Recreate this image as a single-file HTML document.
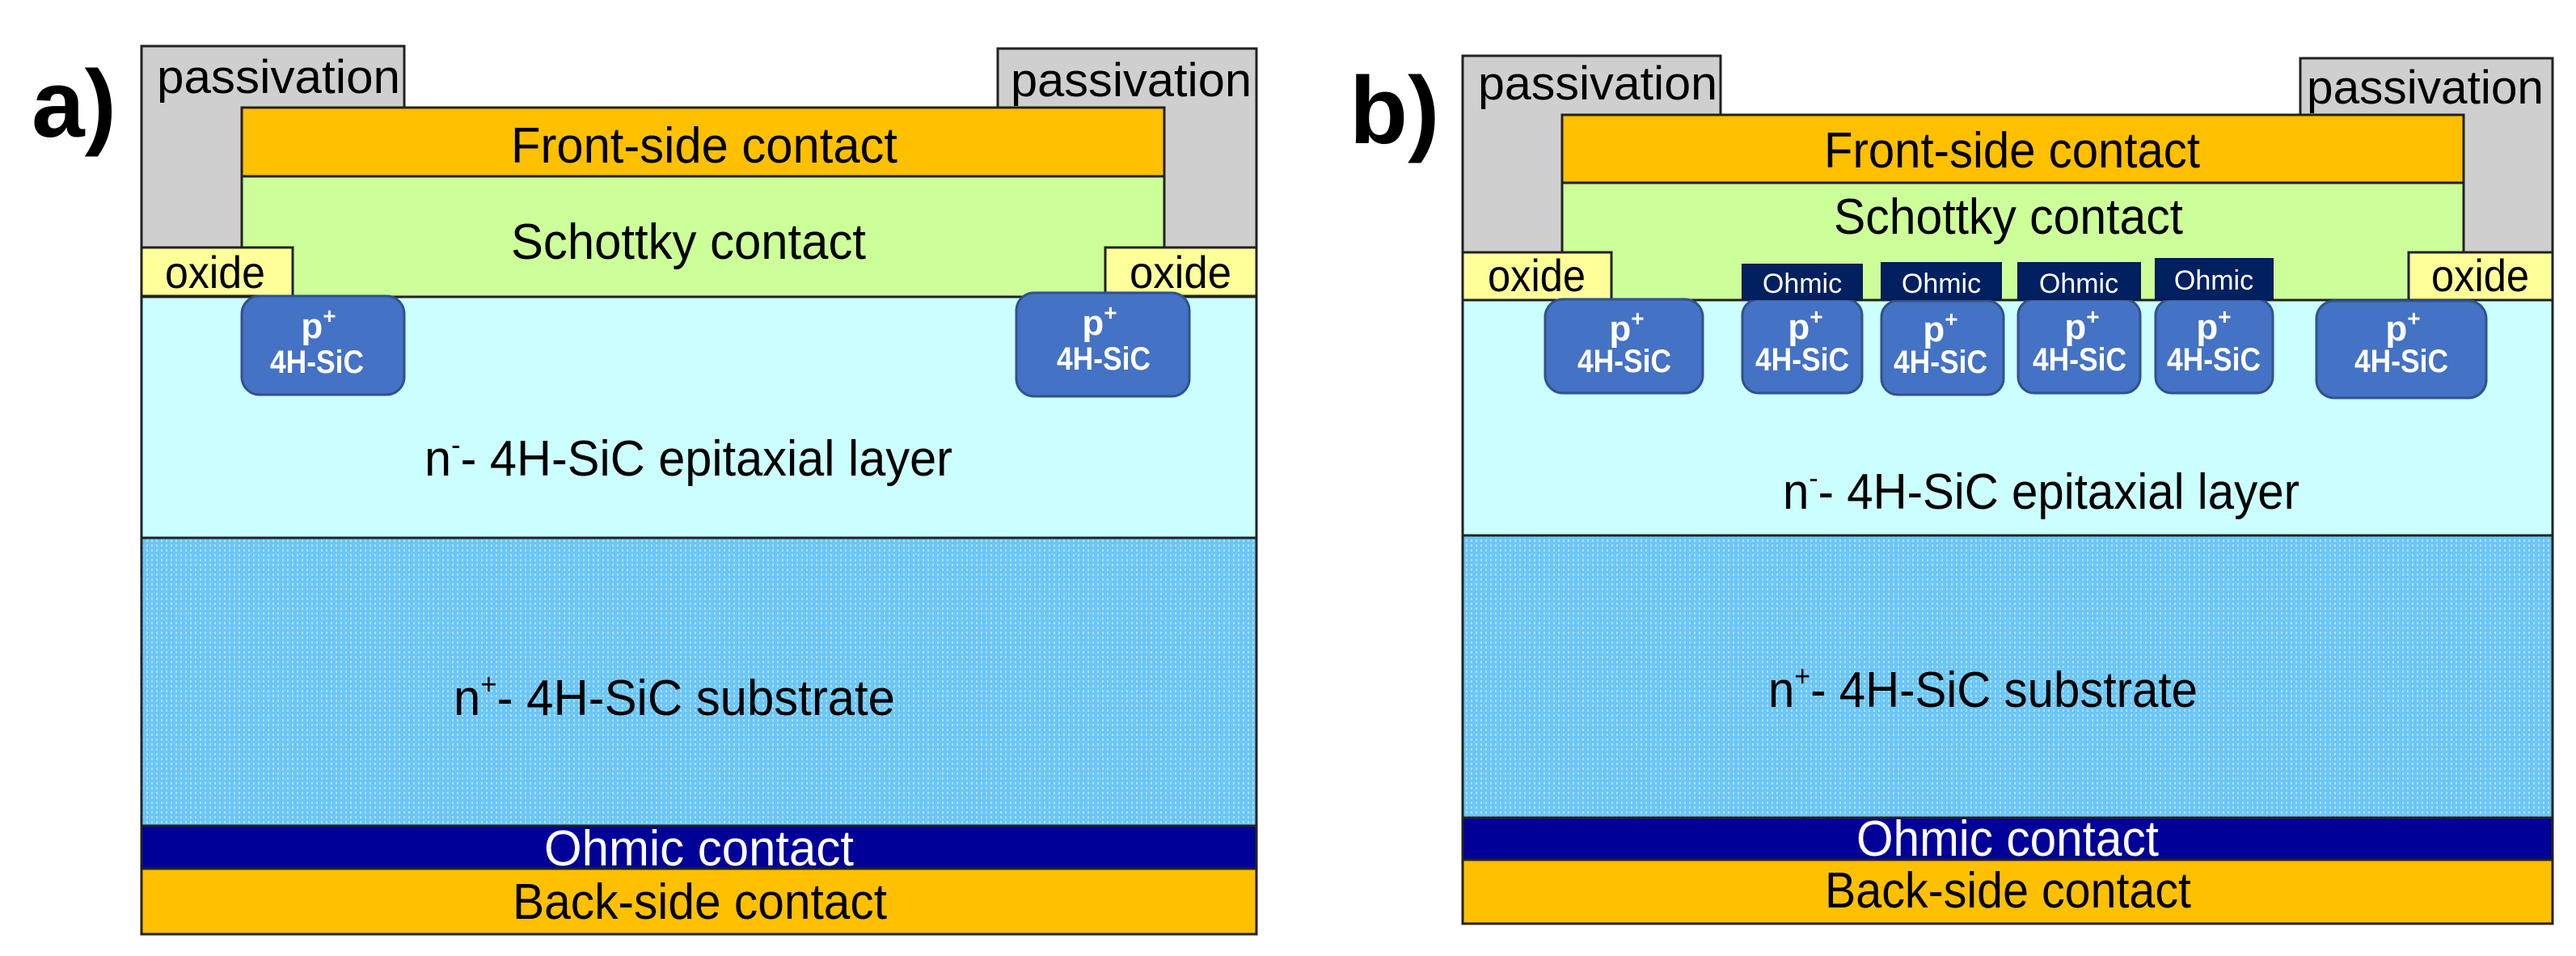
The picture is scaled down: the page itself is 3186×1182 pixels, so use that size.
<!DOCTYPE html>
<html><head><meta charset="utf-8"><style>html,body{margin:0;padding:0;background:#fff}svg{display:block}text{font-family:"Liberation Sans",sans-serif}</style></head><body>
<svg width="3186" height="1182" viewBox="0 0 3186 1182" xmlns="http://www.w3.org/2000/svg">
<defs>
<pattern id="dots" width="6" height="6" patternUnits="userSpaceOnUse">
<rect width="6" height="6" fill="#6cc6f6"/><rect x="1" y="1" width="2" height="3" fill="#a8e0fc"/></pattern>
</defs>
<g stroke="#222" stroke-width="3">
<rect x="175" y="57" width="325" height="310" fill="#d0cfcf"/>
<rect x="1234" y="60" width="320" height="307" fill="#d0cfcf"/>
<rect x="299" y="133" width="1141" height="85" fill="#ffc000"/>
<rect x="299" y="218" width="1141" height="149" fill="#ccff99"/>
<rect x="175" y="306" width="187" height="60" fill="#ffff99"/>
<rect x="1367" y="306" width="187" height="60" fill="#ffff99"/>
<rect x="175" y="367" width="1379" height="298" fill="#ccffff"/>
<rect x="175" y="665" width="1379" height="356" fill="url(#dots)"/>
<rect x="175" y="1021" width="1379" height="53" fill="#000099"/>
<rect x="175" y="1074" width="1379" height="81" fill="#ffc000"/>
<rect x="1809" y="69" width="319" height="302" fill="#d0cfcf"/>
<rect x="2845" y="72" width="312" height="299" fill="#d0cfcf"/>
<rect x="1932" y="142" width="1115" height="84" fill="#ffc000"/>
<rect x="1932" y="226" width="1115" height="145" fill="#ccff99"/>
<rect x="1809" y="312" width="184" height="59" fill="#ffff99"/>
<rect x="2979" y="312" width="178" height="59" fill="#ffff99"/>
<rect x="1809" y="371" width="1348" height="291" fill="#ccffff"/>
<rect x="1809" y="662" width="1348" height="349" fill="url(#dots)"/>
<rect x="1809" y="1011" width="1348" height="52" fill="#000099"/>
<rect x="1809" y="1063" width="1348" height="79" fill="#ffc000"/>
</g>
<g fill="#4472c4" stroke="#2f528f" stroke-width="3">
<rect x="299" y="366" width="201" height="122" rx="22"/>
<rect x="1257" y="362" width="214" height="128" rx="22"/>
<rect x="1911" y="370" width="195" height="116" rx="22"/>
<rect x="2155" y="370" width="148" height="116" rx="20"/>
<rect x="2327" y="372" width="151" height="116" rx="20"/>
<rect x="2496" y="370" width="151" height="116" rx="20"/>
<rect x="2666" y="370" width="145" height="116" rx="20"/>
<rect x="2865" y="372" width="210" height="120" rx="22"/>
</g>
<g fill="#002060" stroke="#0a1a50" stroke-width="2">
<rect x="2155" y="327" width="148" height="43"/>
<rect x="2327" y="325" width="148" height="45"/>
<rect x="2496" y="325" width="151" height="45"/>
<rect x="2666" y="320" width="145" height="50"/>
</g>
<g font-size="62" fill="#000">
<text x="39" y="169" font-size="118" font-weight="bold">a)</text>
<text x="1669" y="177" font-size="118" font-weight="bold">b)</text>
<text x="632" y="201" textLength="478" lengthAdjust="spacingAndGlyphs">Front-side contact</text>
<text x="632" y="320" textLength="439" lengthAdjust="spacingAndGlyphs">Schottky contact</text>
<text x="194" y="115" font-size="58" textLength="301" lengthAdjust="spacingAndGlyphs">passivation</text>
<text x="1250" y="119" font-size="58" textLength="298" lengthAdjust="spacingAndGlyphs">passivation</text>
<text x="204" y="356" font-size="56" textLength="124" lengthAdjust="spacingAndGlyphs">oxide</text>
<text x="1397" y="356" font-size="56" textLength="126" lengthAdjust="spacingAndGlyphs">oxide</text>
<text x="525" y="588" textLength="653" lengthAdjust="spacingAndGlyphs">n<tspan font-size="36" dy="-26">-</tspan><tspan dy="26">- 4H-SiC epitaxial layer</tspan></text>
<text x="561" y="884" textLength="546" lengthAdjust="spacingAndGlyphs">n<tspan font-size="36" dy="-26">+</tspan><tspan dy="26">- 4H-SiC substrate</tspan></text>
<text x="673" y="1070" fill="#fff" textLength="383" lengthAdjust="spacingAndGlyphs">Ohmic contact</text>
<text x="634" y="1136" textLength="463" lengthAdjust="spacingAndGlyphs">Back-side contact</text>
<text x="2256" y="207" textLength="465" lengthAdjust="spacingAndGlyphs">Front-side contact</text>
<text x="2268" y="289" textLength="432" lengthAdjust="spacingAndGlyphs">Schottky contact</text>
<text x="1828" y="123" font-size="58" textLength="296" lengthAdjust="spacingAndGlyphs">passivation</text>
<text x="2853" y="128" font-size="58" textLength="293" lengthAdjust="spacingAndGlyphs">passivation</text>
<text x="1840" y="360" font-size="56" textLength="121" lengthAdjust="spacingAndGlyphs">oxide</text>
<text x="3007" y="360" font-size="56" textLength="121" lengthAdjust="spacingAndGlyphs">oxide</text>
<text x="2205" y="629" textLength="639" lengthAdjust="spacingAndGlyphs">n<tspan font-size="36" dy="-26">-</tspan><tspan dy="26">- 4H-SiC epitaxial layer</tspan></text>
<text x="2187" y="874" textLength="531" lengthAdjust="spacingAndGlyphs">n<tspan font-size="36" dy="-26">+</tspan><tspan dy="26">- 4H-SiC substrate</tspan></text>
<text x="2296" y="1058" fill="#fff" textLength="374" lengthAdjust="spacingAndGlyphs">Ohmic contact</text>
<text x="2257" y="1122" textLength="453" lengthAdjust="spacingAndGlyphs">Back-side contact</text>
</g>
<g fill="#fff" font-size="34" text-anchor="middle">
<text x="2229" y="362">Ohmic</text>
<text x="2401" y="362">Ohmic</text>
<text x="2571" y="362">Ohmic</text>
<text x="2738" y="358">Ohmic</text>
</g>
<g fill="#fff" font-weight="bold" font-size="44" text-anchor="middle">
<text x="394" y="418">p<tspan font-size="28" dy="-18">+</tspan></text><text x="392" y="461" font-size="40" textLength="116" lengthAdjust="spacingAndGlyphs">4H-SiC</text>
<text x="1360" y="414">p<tspan font-size="28" dy="-18">+</tspan></text><text x="1365" y="457" font-size="40" textLength="116" lengthAdjust="spacingAndGlyphs">4H-SiC</text>
<text x="2012" y="421">p<tspan font-size="28" dy="-18">+</tspan></text><text x="2009" y="460" font-size="40" textLength="116" lengthAdjust="spacingAndGlyphs">4H-SiC</text>
<text x="2233" y="419">p<tspan font-size="28" dy="-18">+</tspan></text><text x="2229" y="458" font-size="40" textLength="116" lengthAdjust="spacingAndGlyphs">4H-SiC</text>
<text x="2400" y="422">p<tspan font-size="28" dy="-18">+</tspan></text><text x="2400" y="461" font-size="40" textLength="116" lengthAdjust="spacingAndGlyphs">4H-SiC</text>
<text x="2575" y="419">p<tspan font-size="28" dy="-18">+</tspan></text><text x="2572" y="458" font-size="40" textLength="116" lengthAdjust="spacingAndGlyphs">4H-SiC</text>
<text x="2738" y="419">p<tspan font-size="28" dy="-18">+</tspan></text><text x="2738" y="458" font-size="40" textLength="116" lengthAdjust="spacingAndGlyphs">4H-SiC</text>
<text x="2972" y="421">p<tspan font-size="28" dy="-18">+</tspan></text><text x="2970" y="460" font-size="40" textLength="116" lengthAdjust="spacingAndGlyphs">4H-SiC</text>
</g>
</svg>
</body></html>
